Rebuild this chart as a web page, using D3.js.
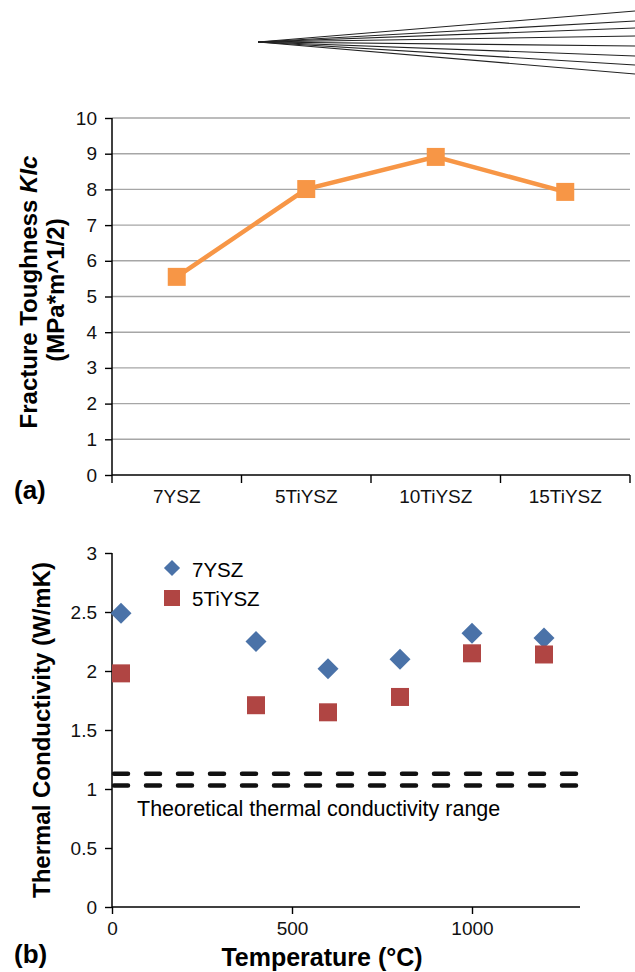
<!DOCTYPE html>
<html>
<head>
<meta charset="utf-8">
<script src="https://cdn.jsdelivr.net/npm/d3@7"></script>
<style>
  body { margin: 0; background: #fff; }
  text { font-family: "Liberation Sans", Arial, sans-serif; }
</style>
</head>
<body>
<div id="chart"></div>
<script>
// (a) fracture toughness
var samples = ["7YSZ", "5TiYSZ", "10TiYSZ", "15TiYSZ"];
var toughness = [5.55, 8.01, 8.91, 7.93];
var toughTicks = [0, 1, 2, 3, 4, 5, 6, 7, 8, 9, 10];

// (b) thermal conductivity
var temps = [25, 400, 600, 800, 1000, 1200];
var cond7YSZ = [2.49, 2.25, 2.02, 2.10, 2.32, 2.28];
var cond5TiYSZ = [1.98, 1.71, 1.65, 1.78, 2.15, 2.14];
var condTicks = [0, 0.5, 1, 1.5, 2, 2.5, 3];
var tempTicks = [0, 500, 1000];
var theoryRange = [1.03, 1.13];

// scan artifact at the top of the figure (end offsets of the fan lines)
var fanEnds = [11, 21, 28, 36, 46, 56, 65, 74];

var orange = "#f79646", blue = "#4a72a8", red = "#b04543";

var svg = d3.select("#chart").append("svg")
  .attr("width", 635).attr("height", 972);

// fan lines
var fan = svg.append("g");
fan.selectAll("line").data(fanEnds).enter().append("line")
  .attr("x1", 258).attr("y1", 42)
  .attr("x2", 635).attr("y2", d => d)
  .attr("stroke", "#222").attr("stroke-width", 1.1);

// ---------- chart (a) ----------
var xa = d3.scaleBand().domain(samples).range([112, 630]);
var ya = d3.scaleLinear().domain([0, 10]).range([475, 118]);

var ga = svg.append("g");
ga.selectAll("line.grid").data(toughTicks.filter(d => d > 0)).enter().append("line")
  .attr("class", "grid")
  .attr("x1", 112).attr("x2", 630)
  .attr("y1", d => ya(d)).attr("y2", d => ya(d))
  .attr("stroke", "#a6a6a6").attr("stroke-width", 1.4);

var yaxA = ga.append("g").attr("transform", "translate(112,0)")
  .call(d3.axisLeft(ya).tickValues(toughTicks).tickSize(7).tickPadding(8));
var xaxA = ga.append("g").attr("transform", "translate(0,475)")
  .call(d3.axisBottom(xa).tickSize(0).tickPadding(15));
// category boundary ticks
ga.selectAll("line.btick").data(samples.concat(["end"])).enter().append("line")
  .attr("class", "btick")
  .attr("x1", (d, i) => xa.range()[0] + i * xa.bandwidth())
  .attr("x2", (d, i) => xa.range()[0] + i * xa.bandwidth())
  .attr("y1", 475).attr("y2", 483)
  .attr("stroke", "#000").attr("stroke-width", 1.4);

var line = d3.line().x((d, i) => xa(samples[i]) + xa.bandwidth() / 2).y(d => ya(d));
ga.append("path").datum(toughness)
  .attr("d", line).attr("fill", "none")
  .attr("stroke", orange).attr("stroke-width", 4.5);
ga.selectAll("rect.pt").data(toughness).enter().append("rect")
  .attr("class", "pt")
  .attr("x", (d, i) => xa(samples[i]) + xa.bandwidth() / 2 - 9)
  .attr("y", d => ya(d) - 9)
  .attr("width", 18).attr("height", 18)
  .attr("fill", orange);

var ylabA = ga.append("text")
  .attr("transform", "translate(37,292) rotate(-90)")
  .attr("text-anchor", "middle")
  .attr("font-size", 24).attr("font-weight", "bold");
ylabA.append("tspan").text("Fracture Toughness ");
ylabA.append("tspan").attr("font-style", "italic").text("KIc");
ga.append("text")
  .attr("transform", "translate(64,290) rotate(-90)")
  .attr("text-anchor", "middle")
  .attr("font-size", 24).attr("font-weight", "bold")
  .text("(MPa*m^1/2)");
ga.append("text").attr("x", 14).attr("y", 499)
  .attr("font-size", 26).attr("font-weight", "bold").text("(a)");

// ---------- chart (b) ----------
var xb = d3.scaleLinear().domain([0, 1300]).range([112, 580]);
var yb = d3.scaleLinear().domain([0, 3]).range([907, 553]);

var gb = svg.append("g");
var yaxB = gb.append("g").attr("transform", "translate(112,0)")
  .call(d3.axisLeft(yb).tickValues(condTicks).tickSize(7).tickPadding(8)
    .tickFormat(d3.format("~g")));
var xaxB = gb.append("g").attr("transform", "translate(0,907)")
  .call(d3.axisBottom(xb).tickValues(tempTicks).tickSize(7).tickPadding(8)
    .tickFormat(d3.format("d")));

gb.selectAll("line.theory").data(theoryRange).enter().append("line")
  .attr("class", "theory")
  .attr("x1", xb(0) + 2).attr("x2", xb(1300) - 3)
  .attr("y1", d => yb(d)).attr("y2", d => yb(d))
  .attr("stroke", "#111").attr("stroke-width", 4.5)
  .attr("stroke-linecap", "round")
  .attr("stroke-dasharray", "14,18");

gb.append("text").attr("x", 137).attr("y", 816)
  .attr("font-size", 21.5).text("Theoretical thermal conductivity range");

var diamond = d3.symbol().type(d3.symbolSquare).size(220);
gb.selectAll("path.d7").data(cond7YSZ).enter().append("path")
  .attr("class", "d7")
  .attr("d", diamond)
  .attr("transform", (d, i) => "translate(" + xb(temps[i]) + "," + yb(d) + ") rotate(45)")
  .attr("fill", blue);
gb.selectAll("rect.s5").data(cond5TiYSZ).enter().append("rect")
  .attr("class", "s5")
  .attr("x", (d, i) => xb(temps[i]) - 9)
  .attr("y", d => yb(d) - 9)
  .attr("width", 18).attr("height", 18)
  .attr("fill", red);

// legend
var legend = gb.append("g");
legend.append("path").attr("d", d3.symbol().type(d3.symbolSquare).size(130))
  .attr("transform", "translate(172,568) rotate(45)").attr("fill", blue);
legend.append("text").attr("x", 192).attr("y", 577).attr("font-size", 20.5).text("7YSZ");
legend.append("rect").attr("x", 164).attr("y", 590).attr("width", 16).attr("height", 16)
  .attr("fill", red);
legend.append("text").attr("x", 192).attr("y", 606).attr("font-size", 20.5).text("5TiYSZ");

gb.append("text")
  .attr("transform", "translate(50,730) rotate(-90)")
  .attr("text-anchor", "middle")
  .attr("font-size", 24).attr("font-weight", "bold")
  .text("Thermal Conductivity (W/mK)");
gb.append("text").attr("x", 322).attr("y", 966)
  .attr("text-anchor", "middle")
  .attr("font-size", 25).attr("font-weight", "bold")
  .text("Temperature (\u00B0C)");
gb.append("text").attr("x", 14).attr("y", 963)
  .attr("font-size", 26).attr("font-weight", "bold").text("(b)");

// axis styling
svg.selectAll(".domain").attr("stroke", "#000").attr("stroke-width", 1.5);
svg.selectAll(".tick line").attr("stroke", "#000").attr("stroke-width", 1.4);
svg.selectAll(".tick text").attr("font-size", 19)
  .attr("font-family", "'Liberation Sans', Arial, sans-serif").attr("fill", "#111");
xaxA.select(".domain").attr("d", "M112,0H630");
xaxB.select(".domain").attr("d", "M112,0H580");
yaxA.select(".domain").attr("d", "M0,118V475");
yaxB.select(".domain").attr("d", "M0,553V907");
</script>
</body>
</html>
